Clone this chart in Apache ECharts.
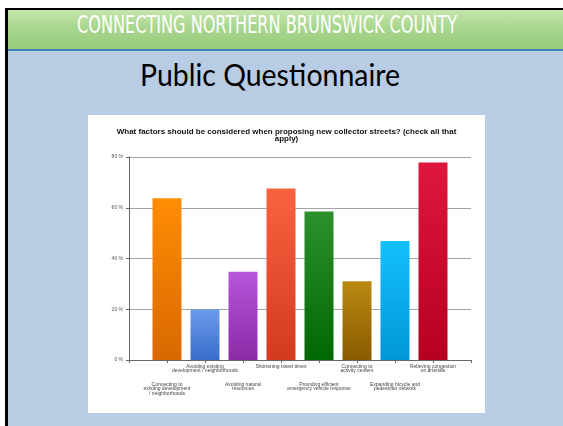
<!DOCTYPE html>
<html>
<head>
<meta charset="utf-8">
<title>Public Questionnaire</title>
<script src="https://cdn.jsdelivr.net/npm/echarts@6/dist/echarts.min.js"></script>
<style>
  html, body { margin: 0; padding: 0; overflow: hidden; }
  body { width: 563px; height: 426px; background: #fff; position: relative; }
  .slide { position: absolute; left: 5px; top: 8px; width: 558px; height: 418px; background: #b8cce4;
           border-left: 3px solid #000; border-top: 2px solid #000; box-sizing: border-box; }
  .band { position: absolute; left: 0; top: 0; right: 0; height: 39px;
          background: linear-gradient(to bottom, #c6e5ad 0%, #a8d68e 45%, #97cc7b 100%);
          border-bottom: 2px solid #3d7fb6; }
  .head { position: absolute; top: 11px; left: 0; white-space: nowrap; color: #fff;
          font-family: 'DejaVu Sans Condensed', 'DejaVu Sans', sans-serif; font-weight: 200;
          font-size: 24px; line-height: 28px; transform-origin: 0 0; }
  .sub { position: absolute; top: 54px; left: 0; white-space: nowrap; color: #000;
         font-family: Lato, 'Open Sans', sans-serif; font-size: 30px; line-height: 40px; transform-origin: 0 0; }
  #chart { position: absolute; left: 88px; top: 115px; width: 397px; height: 298px; background: #fff; }
</style>
</head>
<body>
<div class="slide"><div class="band"></div></div>
<div class="head" id="head">CONNECTING NORTHERN BRUNSWICK COUNTY</div>
<div class="sub" id="sub">Public Questionnaire</div>
<div id="chart"></div>
<script>
// squeeze the slide texts to the width they take in the picture
function fit(id, left, width) {
  var el = document.getElementById(id)
  var w = el.getBoundingClientRect().width
  el.style.left = left + 'px'
  el.style.transform = 'scaleX(' + (width / w) + ')'
}
fit('head', 77, 380)
fit('sub', 140, 260)

var chartTitle = 'What factors should be considered when proposing new collector streets? (check all that\napply)'

var categories = [
  'Connecting to\nexisting development\n/ neighborhoods',
  'Avoiding existing\ndevelopment / neighborhoods',
  'Avoiding natural\nresources',
  'Shortening travel times',
  'Providing efficient\nemergency vehicle response',
  'Connecting to\nactivity centers',
  'Expanding bicycle and\npedestrian network',
  'Relieving congestion\non arterials'
]
var percents = [63.7, 19.9, 34.8, 67.6, 58.5, 31.0, 46.9, 77.8]
var yTicks = [0, 20, 40, 60, 80]

// top / bottom colour of each bar
var barColors = [
  ['#ff8d05', '#d86800'],
  ['#6a9bea', '#3b6dcc'],
  ['#b955da', '#8a2ba6'],
  ['#f8633f', '#d43a1f'],
  ['#2c912c', '#006800'],
  ['#b98a12', '#8a5a00'],
  ['#14c0ff', '#0096d6'],
  ['#de173e', '#b6001f']
]

// empty slot at each end so the axis runs half a bar space past the outer bars
var xData = [''].concat(categories, [''])
var barData = [null]
percents.forEach(function(v, i) {
  barData.push({
    value: v,
    itemStyle: {
      color: new echarts.graphic.LinearGradient(0, 0, 0, 1, [
        { offset: 0, color: barColors[i][0] },
        { offset: 1, color: barColors[i][1] }
      ])
    }
  })
})
barData.push(null)

var chart = echarts.init(document.getElementById('chart'))
chart.setOption({
  animation: false,
  title: {
    text: chartTitle,
    left: 'center',
    top: 9,
    textStyle: { fontFamily: 'Liberation Sans', fontSize: 8, fontWeight: 'bold', lineHeight: 6.5, color: '#111' }
  },
  grid: { left: 41, right: 14, top: 42, bottom: 53 },
  xAxis: {
    type: 'category',
    data: xData,
    boundaryGap: false,
    axisLine: { lineStyle: { color: '#666', width: 1 } },
    axisTick: { show: true, interval: 0, length: 3, lineStyle: { color: '#666' } },
    axisLabel: {
      interval: 0,
      margin: 4,
      fontFamily: 'Liberation Sans',
      fontSize: 5,
      lineHeight: 4.5,
      color: '#444',
      formatter: function(value, index) {
        // labels alternate between two rows
        if (index % 2 === 1) return '\n\n\n\n' + value
        return value
      }
    },
    splitLine: { show: false }
  },
  yAxis: {
    type: 'value',
    min: 0,
    max: 80,
    interval: 20,
    axisLine: { show: true, lineStyle: { color: '#666' } },
    axisTick: { show: true, length: 3, lineStyle: { color: '#666' } },
    axisLabel: {
      margin: 6,
      fontFamily: 'Liberation Sans',
      fontSize: 5,
      color: '#555',
      customValues: yTicks,
      formatter: '{value} %'
    },
    splitLine: { lineStyle: { color: '#a3a3a3', width: 1 } }
  },
  series: [{
    type: 'bar',
    barWidth: 29,
    data: barData
  }]
})
</script>
</body>
</html>
